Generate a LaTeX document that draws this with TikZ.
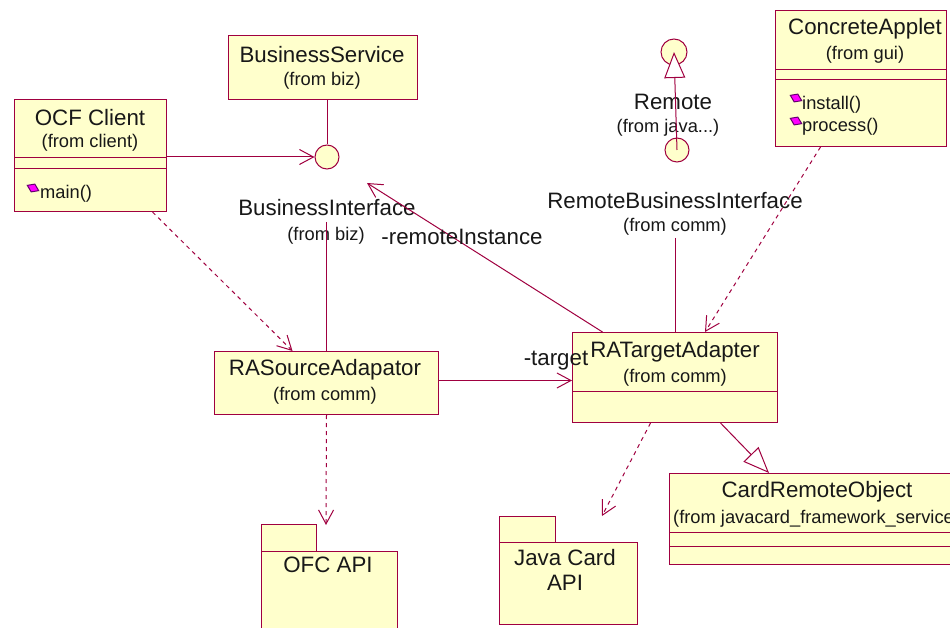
\documentclass[tikz,border=0pt]{standalone}
\usepackage{fontspec}
\setmainfont{Liberation Sans}
\usetikzlibrary{arrows.meta,shapes.geometric}
\definecolor{umlred}{RGB}{160,0,64}
\definecolor{umlfill}{RGB}{255,255,204}
\definecolor{umltext}{RGB}{24,24,24}
\definecolor{opfill}{RGB}{255,0,255}
\definecolor{opline}{RGB}{100,0,110}
\begin{document}
\begin{tikzpicture}[x=1pt,y=-1pt,
  box/.style={draw=umlred, fill=umlfill, line width=1pt, inner sep=0pt, anchor=north west},
  iface/.style={circle, draw=umlred, fill=umlfill, line width=1pt, inner sep=0pt, minimum size=24pt},
  title/.style={text=umltext, font=\fontsize{22.3}{25}\selectfont, inner sep=0pt},
  sub/.style={text=umltext, font=\fontsize{18.3}{21}\selectfont, inner sep=0pt},
  optext/.style={sub, anchor=west},
  op/.style={diamond, draw=opline, fill=opfill, line width=1pt, minimum width=13pt, minimum height=9pt, inner sep=0pt, rotate=-25},
  assoc/.style={draw=umlred, line width=1pt},
  nav/.style={assoc, -{Straight Barb[length=14pt,width=15pt]}},
  dep/.style={nav, dash pattern=on 4pt off 4pt},
  gen/.style={assoc, -{Triangle[open, length=26pt, width=21pt, fill=white]}},
  compart/.style={draw=umlred, line width=1pt}
]
% canvas
\fill[white] (0,0) rectangle (950,628);
\clip (0,0) rectangle (950,628);

% ---------- classes ----------
\node[box, minimum width=189pt, minimum height=64pt] (bs) at (228,35) {};
\node[title] (bsname) at (322,55) {BusinessService};
\node[sub] (bsfrom) at (322,81) {(from biz)};

\node[box, minimum width=152pt, minimum height=112pt] (ocf) at (14,99) {};
\draw[compart] (14,158) -- (166,158);
\draw[compart] (14,169) -- (166,169);
\node[title] (ocfname) at (90,118) {OCF Client};
\node[sub] (ocffrom) at (90,143) {(from client)};
\node[op] (opmain) at (33,188) {};
\node[optext] (main) at (40,194) {main()};

\node[box, minimum width=171pt, minimum height=136pt] (applet) at (775,10) {};
\draw[compart] (775,70) -- (946,70);
\draw[compart] (775,80) -- (946,80);
\node[title] (appletname) at (865,29) {ConcreteApplet};
\node[sub] (appletfrom) at (865,55) {(from gui)};
\node[op] (opinstall) at (796,98) {};
\node[optext] (install) at (802,105) {install()};
\node[op] (opprocess) at (796,121) {};
\node[optext] (process) at (802,127) {process()};

\node[box, minimum width=224pt, minimum height=63pt] (rasrc) at (214,351) {};
\node[title] (rasrcname) at (325,370) {RASourceAdapator};
\node[sub] (rasrcfrom) at (325,396) {(from comm)};

\node[box, minimum width=205pt, minimum height=90pt] (ratgt) at (572,332) {};
\draw[compart] (572,391) -- (777,391);
\node[title] (ratgtname) at (675,352) {RATargetAdapter};
\node[sub] (ratgtfrom) at (675,378) {(from comm)};

\node[box, minimum width=300pt, minimum height=91pt] (card) at (669,473) {};
\draw[compart] (669,532) -- (969,532);
\draw[compart] (669,546) -- (969,546);
\node[title] (cardname) at (817,492) {CardRemoteObject};
\node[sub, anchor=west] (cardfrom) at (673,519) {(from javacard\_framework\_service};

% ---------- packages ----------
\node[box, minimum width=55pt, minimum height=27pt] (ofctab) at (261,524) {};
\node[box, minimum width=136pt, minimum height=90pt] (ofc) at (261,551) {};
\node[title] (ofcname) at (328,565) {OFC API};

\node[box, minimum width=56pt, minimum height=26pt] (jctab) at (499,516) {};
\node[box, minimum width=138pt, minimum height=82pt] (jc) at (499,542) {};
\node[title] (jcname) at (565,558) {Java Card};
\node[title] (jcname2) at (565,583) {API};

% ---------- interfaces ----------
\node[iface] (bi) at (327,157) {};
\node[title] (biname) at (327,208) {BusinessInterface};
\node[sub] (bifrom) at (326,236) {(from biz)};

\node[iface, minimum size=26pt] (remote) at (674,52) {};
\node[title] (remotename) at (673,102) {Remote};
\node[sub] (remotefrom) at (668,128) {(from java...)};

\node[iface] (rbi) at (677,150) {};
\node[title] (rbiname) at (675,201) {RemoteBusinessInterface};
\node[sub] (rbifrom) at (675,227) {(from comm)};

% ---------- connector end points ----------
\coordinate (bileg) at (326,222);
\coordinate (rbileg) at (675,238);
\coordinate (riend) at (367,183);
\coordinate (ofcend) at (326,525);
\coordinate (jcend) at (602,516);
\coordinate (tgtstart) at ([yshift=2.5pt]rasrc.east);

% ---------- connectors ----------
\draw[assoc] (bi.north |- bs.south) -- (bi.north);
\draw[nav] (ocf.east |- bi.west) -- (bi.west);
\draw[dep] ([xshift=62pt]ocf.south) -- ([xshift=-34pt]rasrc.north);
\draw[assoc] (bileg) -- (bileg |- rasrc.north);
\draw[nav] (tgtstart) -- (ratgt.west |- tgtstart);
\node[title] (targetlbl) at (556,361) {-target};
\draw[nav] ([xshift=-72.5pt]ratgt.north) -- (riend);
\node[title] (rilbl) at (462,237) {-remoteInstance};
\draw[assoc] (rbileg) -- (rbileg |- ratgt.north);
\draw[gen] (rbi.center) -- (remote.center);
\draw[dep] ([xshift=-40.5pt]applet.south) -- ([xshift=30pt]ratgt.north);
\draw[dep] ([xshift=-24.5pt]ratgt.south) -- (jcend);
\draw[gen] ([xshift=45.5pt]ratgt.south) -- ([xshift=100pt]card.north west);
\draw[dep] (rasrc.south) -- (ofcend);
\end{tikzpicture}
\end{document}
